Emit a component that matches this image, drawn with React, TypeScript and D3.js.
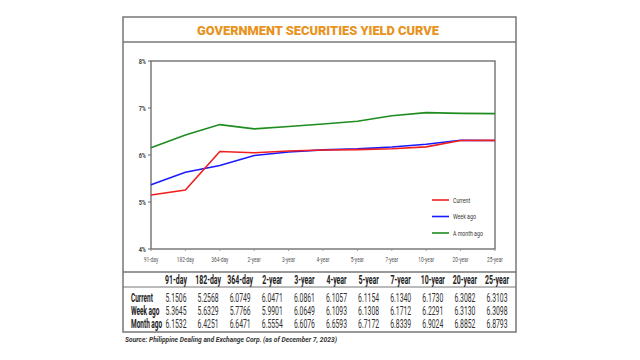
import React, { useEffect, useRef } from 'react';
import * as d3 from 'd3';

const tenors = ['91-day', '182-day', '364-day', '2-year', '3-year', '4-year', '5-year', '7-year', '10-year', '20-year', '25-year'];
const current = [5.1506, 5.2568, 6.0749, 6.0471, 6.0861, 6.1057, 6.1154, 6.134, 6.173, 6.3082, 6.3103];
const weekAgo = [5.3645, 5.6329, 5.7766, 5.9901, 6.0649, 6.1093, 6.1308, 6.1712, 6.2291, 6.313, 6.3098];
const monthAgo = [6.1532, 6.4251, 6.6471, 6.5554, 6.6076, 6.6593, 6.7172, 6.8339, 6.9024, 6.8852, 6.8793];
const yTicks = [4, 5, 6, 7, 8];

const seriesList = [
  { name: 'Current', values: current, color: '#f0201e' },
  { name: 'Week ago', values: weekAgo, color: '#1a1aff' },
  { name: 'A month ago', values: monthAgo, color: '#1e8c1e' },
];
const tableRows = [
  { label: 'Current', values: current },
  { label: 'Week ago', values: weekAgo },
  { label: 'Month ago', values: monthAgo },
];

const font = 'Roboto, sans-serif';

export default function App() {
  const svgRef = useRef<SVGSVGElement>(null);

  useEffect(() => {
    if (!svgRef.current) return;
    const svg = d3.select(svgRef.current);
    svg.selectAll('*').remove();

    // condensed text: horizontal squeeze of Roboto
    const ctext = (g: any, tx: number, ty: number, s: string, size: number, opts: any = {}) => {
      const sx = opts.sx ?? 0.6;
      g.append('text')
        .attr('transform', `translate(${tx},${ty}) scale(${sx},1)`)
        .attr('text-anchor', opts.anchor ?? 'start')
        .attr('font-family', font)
        .attr('font-weight', opts.weight ?? 'normal')
        .attr('font-size', size)
        .attr('fill', opts.fill ?? '#333')
        .text(s);
    };

    svg.append('rect').attr('width', 640).attr('height', 360).attr('fill', '#fff');

    // outer frame
    svg.append('rect')
      .attr('x', 123).attr('y', 17).attr('width', 393).attr('height', 315)
      .attr('fill', 'none').attr('stroke', '#777').attr('stroke-width', 1.5);
    svg.append('line').attr('x1', 123).attr('x2', 516).attr('y1', 42).attr('y2', 42)
      .attr('stroke', '#777').attr('stroke-width', 1.5);

    svg.append('text')
      .attr('x', 318).attr('y', 34.5)
      .attr('text-anchor', 'middle')
      .attr('font-family', font)
      .attr('font-weight', 900)
      .attr('font-size', 12.5)
      .attr('fill', '#e8931e')
      .attr('textLength', 242)
      .attr('lengthAdjust', 'spacingAndGlyphs')
      .text('GOVERNMENT SECURITIES YIELD CURVE');

    // plot
    const left = 151, right = 495, top = 61, bottom = 249;
    const x = d3.scalePoint<string>().domain(tenors).range([left, right]);
    const y = d3.scaleLinear().domain([4, 8]).range([bottom, top]);

    svg.append('rect')
      .attr('x', left).attr('y', top).attr('width', right - left).attr('height', bottom - top)
      .attr('fill', 'none').attr('stroke', '#666').attr('stroke-width', 1.3);

    const yAxis = svg.append('g');
    yTicks.forEach(t => {
      yAxis.append('line').attr('x1', left - 3).attr('x2', left).attr('y1', y(t)).attr('y2', y(t))
        .attr('stroke', '#666');
      ctext(yAxis, left - 5, y(t) + 2.5, `${t}%`, 8, { anchor: 'end', weight: 'bold', fill: '#444', sx: 0.7 });
    });

    const xAxis = svg.append('g');
    tenors.forEach(t => {
      const px = x(t) as number;
      xAxis.append('line').attr('x1', px).attr('x2', px).attr('y1', bottom).attr('y2', bottom + 2)
        .attr('stroke', '#999');
      ctext(xAxis, px, bottom + 13, t, 7.5, { anchor: 'middle', fill: '#555', sx: 0.65 });
    });

    const line = d3.line<number>().x((_, i) => x(tenors[i]) as number).y(d => y(d));
    seriesList.slice().reverse().forEach(s => {
      svg.append('path').datum(s.values).attr('d', line)
        .attr('fill', 'none').attr('stroke', s.color).attr('stroke-width', 1.6);
    });

    // legend
    seriesList.forEach((s, i) => {
      const ly = 200 + i * 16.5;
      svg.append('line').attr('x1', 432).attr('x2', 449).attr('y1', ly).attr('y2', ly)
        .attr('stroke', s.color).attr('stroke-width', 1.6);
      ctext(svg, 453, ly + 2.5, s.name, 7.5, { fill: '#333', sx: 0.7 });
    });

    // table
    svg.append('line').attr('x1', 123).attr('x2', 516).attr('y1', 272).attr('y2', 272)
      .attr('stroke', '#777').attr('stroke-width', 1.5);
    svg.append('line').attr('x1', 123).attr('x2', 516).attr('y1', 287).attr('y2', 287)
      .attr('stroke', '#777').attr('stroke-width', 1);

    const col = d3.scalePoint<string>().domain(tenors).range([176, 497]);
    tenors.forEach(t => {
      ctext(svg, col(t) as number, 284, t, 12, { anchor: 'middle', weight: 'bold', fill: '#222', sx: 0.58 });
    });

    tableRows.forEach((r, ri) => {
      const ry = 301.5 + ri * 13;
      ctext(svg, 131, ry, r.label, 12, { weight: 'bold', fill: '#222', sx: 0.54 });
      r.values.forEach((v, i) => {
        ctext(svg, col(tenors[i]) as number, ry, v.toFixed(4), 12, { anchor: 'middle', fill: '#333', sx: 0.57 });
      });
    });

    svg.append('text').attr('x', 125).attr('y', 342)
      .attr('font-family', font).attr('font-weight', 'bold')
      .attr('font-style', 'italic').attr('font-size', 6.3).attr('fill', '#333')
      .attr('textLength', 212).attr('lengthAdjust', 'spacingAndGlyphs')
      .text('Source: Philippine Dealing and Exchange Corp. (as of December 7, 2023)');
  }, []);

  return (
    <svg ref={svgRef} width={640} height={360}
      style={{ position: 'absolute', left: 0, top: 0, display: 'block' }} />
  );
}
